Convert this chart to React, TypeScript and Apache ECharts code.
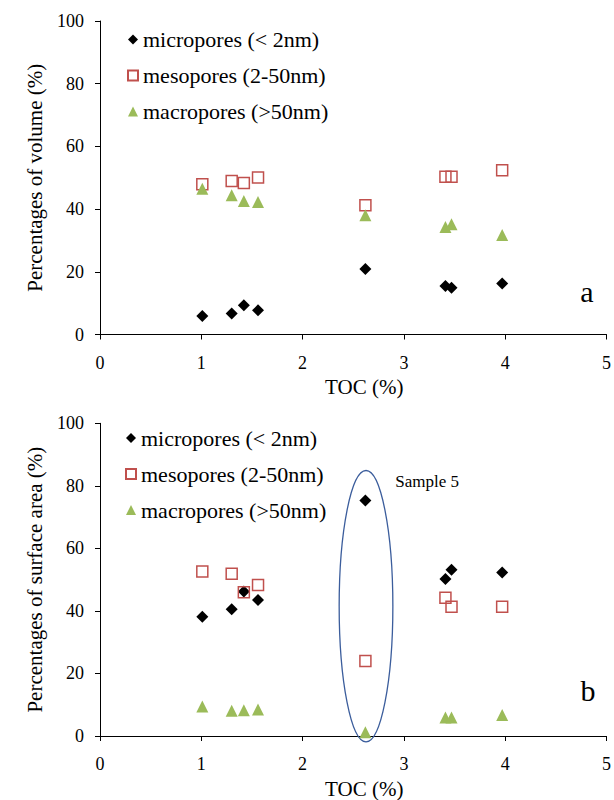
import React, { useEffect, useRef } from "react";
import * as echarts from "echarts";

const TOC = [1.01, 1.3, 1.42, 1.56, 2.62, 3.41, 3.47, 3.97];

const volMicro = [5.9, 6.7, 9.3, 7.7, 20.9, 15.5, 14.9, 16.3];
const volMeso = [47.9, 49.0, 48.3, 50.1, 41.2, 50.3, 50.3, 52.4];
const volMacro = [46.5, 44.4, 42.6, 42.3, 38.0, 34.3, 35.2, 31.7];

const areaMicro = [38.1, 40.5, 46.2, 43.5, 75.3, 50.2, 53.2, 52.3];
const areaMeso = [52.6, 51.9, 46.0, 48.3, 24.0, 44.2, 41.3, 41.3];
const areaMacro = [9.4, 8.1, 8.2, 8.5, 1.2, 5.9, 5.9, 6.7];

const seriesNames = ["micropores (< 2nm)", "mesopores (2-50nm)", "macropores (>50nm)"];
const yTitles = ["Percentages of volume (%)", "Percentages of surface area (%)"];
const xTitle = "TOC (%)";
const panelLabels = ["a", "b"];
const sampleLabel = "Sample 5";
// ellipse around sample 5 in data units: center x, center y, half width, half height
const ellipseData = [2.626, 41.5, 0.265, 43.4];
const sampleLabelPos = [3.23, 81.3];

const FONT = "'Liberation Serif', 'Times New Roman', 'DejaVu Serif', serif";

function pairs(xs: number[], ys: number[]) {
  return xs.map((x, i) => [x, ys[i]]);
}

export default function App() {
  const ref = useRef<HTMLDivElement>(null);
  useEffect(() => {
    if (!ref.current) return;
    const chart = echarts.init(ref.current, null, { renderer: "svg" });
    const grids = [
      { left: 100, top: 21, width: 509, height: 313.5 },
      { left: 100, top: 423.3, width: 509, height: 313.5 },
    ];
    const xAxis = [0, 1].map((i) => ({
      gridIndex: i,
      type: "value",
      min: 0,
      max: 5,
      interval: 1,
      name: xTitle,
      nameLocation: "middle",
      nameGap: 42,
      nameTextStyle: { fontSize: 21, color: "#000", fontFamily: FONT, padding: [0, 0, 0, 22] },
      axisLine: { show: true, lineStyle: { color: "#000", width: 1 } },
      axisTick: { show: true, length: 5, lineStyle: { color: "#000" } },
      axisLabel: { fontSize: 18, color: "#000", fontFamily: FONT, margin: 19 },
      splitLine: { show: false },
    }));
    const yAxis = [0, 1].map((i) => ({
      gridIndex: i,
      type: "value",
      min: 0,
      max: 100,
      interval: 20,
      name: yTitles[i],
      nameLocation: "middle",
      nameGap: 55,
      nameTextStyle: { fontSize: 21, color: "#000", fontFamily: FONT },
      axisLine: { show: true, lineStyle: { color: "#000", width: 1 } },
      axisTick: { show: true, length: 5, lineStyle: { color: "#000" } },
      axisLabel: { fontSize: 18, color: "#000", fontFamily: FONT, margin: 16 },
      splitLine: { show: false },
    }));
    const styles = [
      { symbol: "diamond", symbolSize: 12, itemStyle: { color: "#000", opacity: 1 } },
      {
        symbol: "rect",
        symbolSize: 11,
        itemStyle: { color: "rgba(255,255,255,0)", borderColor: "#c0504d", borderWidth: 1.5, opacity: 1 },
      },
      { symbol: "triangle", symbolSize: 12, itemStyle: { color: "#9bbb59", opacity: 1 } },
    ];
    const sets = [
      [volMicro, volMeso, volMacro],
      [areaMicro, areaMeso, areaMacro],
    ];
    const series: any[] = [];
    sets.forEach((set, g) => {
      set.forEach((vals, k) => {
        series.push({
          type: "scatter",
          name: seriesNames[k],
          xAxisIndex: g,
          yAxisIndex: g,
          data: pairs(TOC, vals),
          ...styles[k],
        });
      });
    });
    const legend = [23.5, 422].map((top, i) => ({
      data: seriesNames,
      orient: "vertical",
      left: i === 0 ? 122 : 120,
      top,
      itemWidth: 10,
      itemHeight: 10,
      itemGap: 14,
      selectedMode: false,
      textStyle: { fontSize: 22, color: "#000", fontFamily: FONT },
    }));
    chart.setOption({
      animation: false,
      textStyle: { fontFamily: FONT },
      grid: grids,
      xAxis,
      yAxis,
      legend,
      series,
    });

    const c = chart.convertToPixel({ xAxisIndex: 1, yAxisIndex: 1 }, [ellipseData[0], ellipseData[1]]) as number[];
    const e = chart.convertToPixel(
      { xAxisIndex: 1, yAxisIndex: 1 },
      [ellipseData[0] + ellipseData[2], ellipseData[1] + ellipseData[3]]
    ) as number[];
    const s = chart.convertToPixel({ xAxisIndex: 1, yAxisIndex: 1 }, sampleLabelPos) as number[];
    chart.setOption({
      graphic: [
        {
          type: "ellipse",
          shape: { cx: c[0], cy: c[1], rx: e[0] - c[0], ry: c[1] - e[1] },
          style: { fill: "none", stroke: "#3b5d9c", lineWidth: 1.3 },
          z: 1,
        },
        {
          type: "text",
          x: s[0],
          y: s[1],
          style: {
            text: sampleLabel,
            fontSize: 17,
            fontFamily: FONT,
            fill: "#000",
            align: "center",
            verticalAlign: "middle",
          },
        },
        {
          type: "text",
          x: 587,
          y: 291,
          style: {
            text: panelLabels[0],
            fontSize: 30,
            fontFamily: FONT,
            fill: "#000",
            align: "center",
            verticalAlign: "middle",
          },
        },
        {
          type: "text",
          x: 588,
          y: 690,
          style: {
            text: panelLabels[1],
            fontSize: 30,
            fontFamily: FONT,
            fill: "#000",
            align: "center",
            verticalAlign: "middle",
          },
        },
      ],
    });
    return () => chart.dispose();
  }, []);
  return (
    <div
      ref={ref}
      style={{ position: "absolute", left: 0, top: 0, width: 614, height: 800, background: "#fff" }}
    />
  );
}
